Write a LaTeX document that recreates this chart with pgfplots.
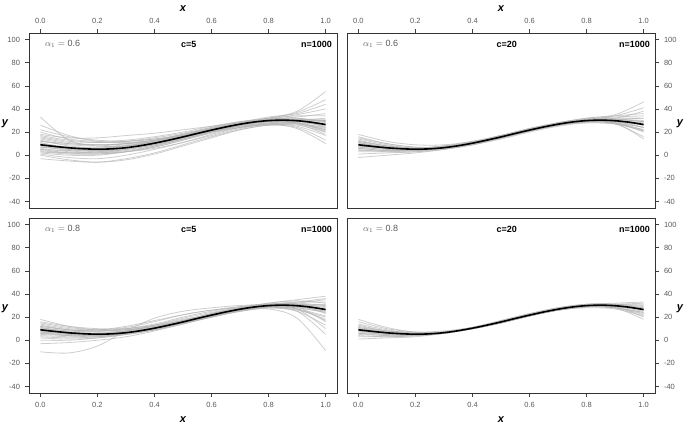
\documentclass[border=0pt]{standalone}
\usepackage{pgfplots}
\pgfplotsset{compat=1.18}
\usepackage{pgfplotstable}
\usepackage{fontspec}
\setmainfont{Liberation Sans}
\definecolor{tickgrey}{RGB}{90,90,90}
\definecolor{curvegrey}{RGB}{180,180,180}

% each row is one fitted curve, values at x = 0, 0.1, ..., 1
\pgfplotstableread[header=has colnames]{
id  a0 a1 a2 a3 a4 a5 a6 a7 a8 a9 a10
x   0 0.1 0.2 0.3 0.4 0.5 0.6 0.7 0.8 0.9 1.0
c1  33 13 8 8 11 16 22 27 31 33 36
c2  0 -4 -6 -4 1 8 15 22 26 27 24
c3  16 12 11 12 15 19 24 28 32 37 48
c4  3 1 1 3 7 13 19 24 27 27 22
c5  12 9 8 10 13 18 23 27 29 27 18
c6  5 2 1 3 7 13 20 26 31 35 40
c7  -3 -5 -6 -3 2 9 16 22 26 26 20
c8  20 14 12 13 16 20 25 29 31 30 25
c9  10 7 6 8 11 16 21 25 27 25 17
c10 7 5 5 8 12 18 24 29 32 34 34
c11 14 10 9 10 13 17 21 24 26 24 13
c12 2 0 0 3 8 14 21 27 31 32 29
c13 11 6 4 6 9 15 21 27 32 38 55
c14 18 15 15 17 19 22 25 28 30 28 20
c15 6 3 2 4 8 14 20 25 28 28 23
c16 9 7 7 9 12 17 22 26 29 30 30
c17 4 2 2 5 10 16 22 27 29 28 22
c18 13 8 6 8 12 17 23 28 31 32 28
c19 8 4 2 3 6 11 17 23 27 29 30
c20 22 16 13 12 14 17 22 26 29 29 26
c21 1 -2 -3 0 5 11 18 24 28 30 32
c22 15 11 9 10 12 16 20 24 27 28 26
c23 7 6 6 8 11 16 22 28 33 36 44
c24 12 10 9 10 13 18 23 26 27 23 10
c25 5 4 4 6 10 16 23 28 31 30 24
c26 10 6 4 5 9 14 20 26 30 31 29
c27 17 13 11 12 14 18 23 28 31 31 27
c28 3 2 3 6 10 15 21 26 30 31 31
c29 9 5 3 5 9 15 21 26 29 28 21
c30 26 17 12 11 13 17 22 27 30 31 30
}\rawTL

\pgfplotstableread[header=has colnames]{
id  a0 a1 a2 a3 a4 a5 a6 a7 a8 a9 a10
x   0 0.1 0.2 0.3 0.4 0.5 0.6 0.7 0.8 0.9 1.0
c1  18 12 9 9 12 17 22 27 31 33 34
c2  -2 0 2 5 9 15 21 26 29 28 22
c3  12 8 6 7 10 16 22 27 31 34 41
c4  5 3 3 5 9 15 21 26 29 29 24
c5  9 6 5 7 11 16 22 27 30 29 24
c6  14 9 6 7 10 15 21 26 30 31 29
c7  3 3 4 6 10 15 21 26 29 28 20
c8  10 7 6 7 11 16 23 28 32 35 46
c9  7 5 4 6 10 16 22 27 30 30 27
c10 11 7 5 6 9 14 20 25 28 27 22
c11 6 4 4 7 11 17 23 28 31 31 29
c12 15 10 7 7 10 15 21 26 29 28 24
c13 8 6 5 7 11 16 22 27 29 27 16
c14 4 4 5 7 11 17 23 28 31 32 32
c15 12 8 6 7 10 15 21 26 30 31 30
c16 9 6 6 8 12 17 23 27 30 30 26
c17 1 2 3 6 10 16 22 27 30 31 32
c18 10 7 6 8 11 16 21 26 29 28 21
c19 13 8 6 7 11 16 22 28 32 34 36
c20 7 5 5 7 10 15 21 26 28 27 21
c21 9 7 6 8 11 17 22 27 30 31 29
c22 16 10 7 7 10 15 21 26 29 29 26
c23 6 4 4 6 10 16 22 27 31 32 38
c24 8 6 5 7 10 16 22 27 29 28 14
c25 11 7 6 7 11 16 22 27 30 30 28
}\rawTR

\pgfplotstableread[header=has colnames]{
id  a0 a1 a2 a3 a4 a5 a6 a7 a8 a9 a10
x   0 0.1 0.2 0.3 0.4 0.5 0.6 0.7 0.8 0.9 1.0
c1  -10 -11 -5 8 19 25 28 30 31 30 27
c2  18 12 9 9 12 16 21 26 29 29 25
c3  -3 -2 0 3 8 14 20 25 28 28 24
c4  10 7 6 8 12 17 23 28 31 31 27
c5  5 4 4 6 10 15 21 26 30 31 30
c6  12 9 8 9 12 16 21 26 29 27 17
c7  8 5 4 6 10 16 22 27 30 27 10
c8  14 10 9 12 17 22 26 29 30 27 18
c9  3 2 3 6 10 16 22 28 32 35 38
c10 9 7 6 7 10 15 21 27 31 31 23
c11 6 5 5 8 13 19 24 28 30 29 25
c12 11 8 7 8 11 15 20 25 29 32 35
c13 7 4 3 5 9 15 21 26 28 25 13
c14 15 11 9 11 16 22 26 28 29 26 20
c15 2 1 2 5 9 15 21 27 31 33 33
c16 9 6 5 7 10 15 21 27 31 29 16
c17 13 9 8 9 12 17 23 28 31 32 30
c18 4 3 3 6 11 17 23 27 29 27 21
c19 10 8 8 10 13 18 22 26 28 25 5
c20 16 12 10 10 13 17 22 27 30 31 28
c21 8 6 5 7 10 16 22 27 30 30 26
c22 6 4 4 6 10 15 20 26 30 33 36
c23 11 7 5 6 9 14 20 25 27 19 -9
c24 12 9 8 10 14 20 25 29 31 31 29
c25 0 0 2 5 9 15 21 26 29 28 24
c26 7 6 6 8 11 16 21 26 29 30 31
c27 9 6 5 6 10 16 22 28 32 34 32
}\rawBL

\pgfplotstableread[header=has colnames]{
id  a0 a1 a2 a3 a4 a5 a6 a7 a8 a9 a10
x   0 0.1 0.2 0.3 0.4 0.5 0.6 0.7 0.8 0.9 1.0
c1  18 11 7 7 10 15 21 26 29 29 26
c2  1 2 3 6 10 16 22 27 30 30 27
c3  12 8 6 7 11 16 22 27 30 30 28
c4  6 4 4 6 10 15 21 26 28 27 21
c5  9 6 5 7 11 16 22 27 31 32 33
c6  14 9 6 7 10 15 21 26 29 28 22
c7  4 3 4 7 11 17 23 28 31 31 28
c8  10 7 6 7 10 15 21 26 29 28 24
c9  8 6 5 7 11 17 23 28 31 31 30
c10 11 7 5 6 10 15 21 26 29 28 18
c11 7 5 5 7 10 16 22 27 30 30 27
c12 16 10 7 7 10 15 21 26 29 29 27
c13 5 4 4 6 10 16 22 27 30 31 31
c14 9 7 6 7 10 15 21 26 29 28 23
c15 13 8 6 7 11 16 22 28 31 31 29
c16 3 3 4 7 11 16 22 27 29 28 24
c17 10 7 5 6 10 16 22 27 30 30 26
c18 8 5 4 6 10 15 21 26 29 29 25
c19 11 8 7 8 11 16 22 27 30 31 32
c20 6 5 5 7 10 15 21 27 30 29 20
}\rawBR

\pgfplotstabletranspose[colnames from=id]{\tabTL}{\rawTL}
\pgfplotstabletranspose[colnames from=id]{\tabTR}{\rawTR}
\pgfplotstabletranspose[colnames from=id]{\tabBL}{\rawBL}
\pgfplotstabletranspose[colnames from=id]{\tabBR}{\rawBR}

\pgfplotsset{
  panel/.style={
    scale only axis, width=308pt, height=175pt,
    xmin=-0.04, xmax=1.04, ymin=-45.6, ymax=105.6,
    xtick={0,0.2,0.4,0.6,0.8,1},
    ytick={-40,-20,0,20,40,60,80,100},
    xticklabel style={/pgf/number format/.cd,fixed,fixed zerofill,precision=1},
    /pgf/number format/assume math mode=true,
    tick align=outside, major tick length=4pt,
    tick style={black!75, line width=0.5pt},
    ticklabel style={font=\fontsize{7.5}{8}\selectfont, text=tickgrey},
    xticklabel shift=1.5pt, yticklabel shift=1.5pt,
    axis line style={black!80, line width=0.7pt},
    label style={font=\fontsize{11}{12}\selectfont\bfseries\itshape},
    xlabel={x}, ylabel={y},
  },
  leftlab/.style={ylabel style={at={(rel axis cs:-0.078,0.48)}, anchor=center, rotate=-90}},
  rightlab/.style={ylabel style={at={(rel axis cs:1.081,0.48)}, anchor=center, rotate=-90}},
  botlab/.style={xlabel style={yshift=-2.5pt}},
  gline/.style={curvegrey, line width=0.8pt, smooth, tension=0.55, opacity=0.65},
  tline/.style={black, line width=1.6pt, smooth},
}

\newcommand{\truth}{\addplot[tline] coordinates {(0,9.0)(0.05,7.6)(0.1,6.4)(0.15,5.6)(0.2,5.2)(0.25,5.5)(0.3,6.5)(0.35,8.2)(0.4,10.4)(0.45,13.0)(0.5,15.8)(0.55,18.8)(0.6,21.7)(0.65,24.4)(0.7,26.8)(0.75,28.7)(0.8,29.9)(0.85,30.3)(0.9,29.8)(0.95,28.5)(1.0,26.5)};}
\newcommand{\annot}[2]{%
  \node[anchor=west, inner sep=0, text=tickgrey, font=\fontsize{9}{10}\selectfont] at (rel axis cs:0.052,0.937) {$\alpha_1=$ #1};
  \node[anchor=center, inner sep=0, font=\fontsize{9}{10}\selectfont\bfseries] at (axis cs:0.52,{105.6-11*151.2/175}) {c=#2};
  \node[anchor=east, inner sep=0, font=\fontsize{9}{10}\selectfont\bfseries] at (rel axis cs:0.984,0.937) {n=1000};
}

\begin{document}
\begin{tikzpicture}
\path[use as bounding box] (0,0) rectangle (685pt,427pt);
% top left
\begin{axis}[panel, leftlab, at={(29pt,219pt)}, anchor=south west,
  xtick pos=right, xticklabel pos=right, ytick pos=left, yticklabel pos=left]
  \pgfplotsinvokeforeach{1,...,30}{\addplot[gline] table[x=x,y=c#1]{\tabTL};}
  \truth
  \annot{0.6}{5}
\end{axis}
% top right
\begin{axis}[panel, rightlab, at={(347pt,219pt)}, anchor=south west,
  xtick pos=right, xticklabel pos=right, ytick pos=right, yticklabel pos=right]
  \pgfplotsinvokeforeach{1,...,25}{\addplot[gline] table[x=x,y=c#1]{\tabTR};}
  \truth
  \annot{0.6}{20}
\end{axis}
% bottom left
\begin{axis}[panel, leftlab, botlab, at={(29pt,34pt)}, anchor=south west,
  xtick pos=left, xticklabel pos=left, ytick pos=left, yticklabel pos=left]
  \pgfplotsinvokeforeach{1,...,27}{\addplot[gline] table[x=x,y=c#1]{\tabBL};}
  \truth
  \annot{0.8}{5}
\end{axis}
% bottom right
\begin{axis}[panel, rightlab, botlab, at={(347pt,34pt)}, anchor=south west,
  xtick pos=left, xticklabel pos=left, ytick pos=right, yticklabel pos=right]
  \pgfplotsinvokeforeach{1,...,20}{\addplot[gline] table[x=x,y=c#1]{\tabBR};}
  \truth
  \annot{0.8}{20}
\end{axis}
\end{tikzpicture}
\end{document}
